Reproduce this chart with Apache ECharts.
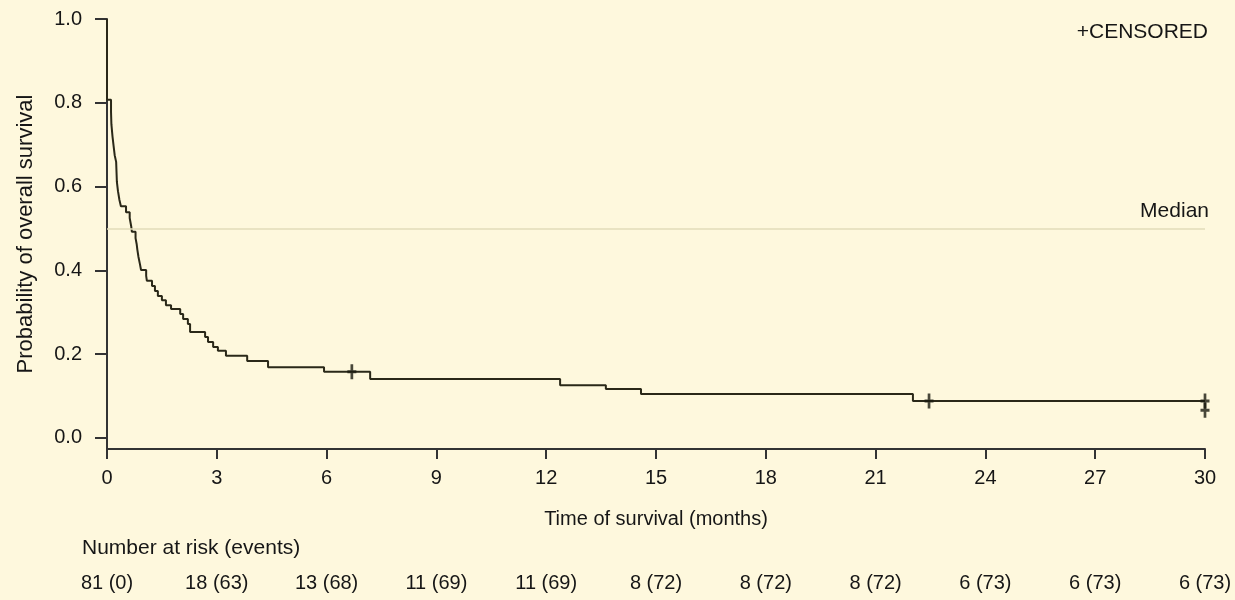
<!DOCTYPE html>
<html>
<head>
<meta charset="utf-8">
<script src="https://cdn.jsdelivr.net/npm/echarts@6/dist/echarts.min.js"></script>
<style>
  html, body { margin: 0; padding: 0; background: #fef8dd; }
  #chart { width: 1235px; height: 600px; }
</style>
</head>
<body>
<div id="chart"></div>
<script>
// Kaplan-Meier steps: time (months) of each drop and level after it
var stepTimes = [0, 0.11, 0.12, 0.15, 0.18, 0.21, 0.25, 0.26, 0.27, 0.30, 0.34, 0.38, 0.52, 0.62, 0.66, 0.68,
  0.78, 0.81, 0.83, 0.86, 0.90, 0.93, 1.07, 1.09, 1.23, 1.31, 1.39, 1.50, 1.61, 1.75, 2.00, 2.08, 2.21, 2.27,
  2.68, 2.76, 2.90, 3.03, 3.25, 3.83, 4.40, 5.93, 7.19, 12.38, 13.63, 14.59, 22.02, 30];
var stepSurv = [0.807, 0.778, 0.749, 0.720, 0.697, 0.675, 0.659, 0.635, 0.611, 0.589, 0.568, 0.553, 0.539, 0.525, 0.506, 0.492,
  0.477, 0.463, 0.449, 0.432, 0.415, 0.401, 0.387, 0.375, 0.363, 0.351, 0.339, 0.329, 0.317, 0.308, 0.296, 0.284, 0.272, 0.253,
  0.241, 0.229, 0.217, 0.208, 0.196, 0.184, 0.169, 0.158, 0.141, 0.126, 0.117, 0.105, 0.088, 0.088];

// censored observations
var censorTimes = [6.69, 22.46, 30, 30];
var censorSurv = [0.158, 0.088, 0.088, 0.066];

// number at risk (events) at each 3-month tick
var riskTimes = [0, 3, 6, 9, 12, 15, 18, 21, 24, 27, 30];
var atRisk = [81, 18, 13, 11, 11, 8, 8, 8, 6, 6, 6];
var events = [0, 63, 68, 69, 69, 72, 72, 72, 73, 73, 73];

var yTicks = [0, 0.2, 0.4, 0.6, 0.8, 1.0];
var medianLevel = 0.5;

var curve = [[0, 1]];
for (var i = 0; i < stepTimes.length; i++) {
  curve.push([stepTimes[i], stepSurv[i]]);
}
var censored = [];
for (var j = 0; j < censorTimes.length; j++) {
  censored.push([censorTimes[j], censorSurv[j]]);
}

var font = '"Liberation Sans", Arial, sans-serif';
var ink = '#161616';

var myChart = echarts.init(document.getElementById('chart'));
var option = {
  backgroundColor: '#fef8dd',
  animation: false,
  textStyle: { fontFamily: font },
  grid: { left: 107, right: 30, top: 19, bottom: 151 },
  xAxis: [
    {
      type: 'value',
      min: 0,
      max: 30,
      interval: 3,
      name: 'Time of survival (months)',
      nameLocation: 'middle',
      nameGap: 60,
      nameTextStyle: { color: ink, fontSize: 20, fontFamily: font },
      axisLine: { onZero: false, lineStyle: { color: '#333', width: 2 } },
      axisTick: { length: 10, lineStyle: { color: '#333', width: 2 } },
      axisLabel: { color: ink, fontSize: 20, margin: 19, fontFamily: font },
      splitLine: { show: false }
    },
    {
      type: 'value',
      position: 'bottom',
      offset: 116,
      min: 0,
      max: 30,
      interval: 3,
      axisLine: { show: false, onZero: false },
      axisTick: { show: false },
      splitLine: { show: false },
      axisLabel: {
        color: ink,
        fontSize: 20,
        margin: 8,
        fontFamily: font,
        formatter: function (v) {
          var k = riskTimes.indexOf(v);
          return k < 0 ? '' : atRisk[k] + ' (' + events[k] + ')';
        }
      }
    }
  ],
  yAxis: {
    type: 'value',
    min: -0.0263,
    max: 1,
    name: 'Probability of overall survival',
    nameLocation: 'middle',
    nameGap: 70,
    nameRotate: 90,
    nameTextStyle: { color: ink, fontSize: 22, fontFamily: font },
    axisLine: { show: true, lineStyle: { color: '#333', width: 2 } },
    axisTick: { show: true, length: 12, customValues: yTicks, lineStyle: { color: '#333', width: 2 } },
    axisLabel: {
      color: ink,
      fontSize: 20,
      margin: 25,
      fontFamily: font,
      customValues: yTicks,
      formatter: function (v) { return v.toFixed(1); }
    },
    splitLine: { show: false }
  },
  graphic: [
    {
      type: 'text',
      right: 27,
      top: 22,
      style: { text: '+CENSORED', fill: ink, font: '21px ' + font }
    },
    {
      type: 'text',
      left: 82,
      top: 538,
      style: { text: 'Number at risk (events)', fill: ink, font: '21px ' + font }
    }
  ],
  series: [
    {
      type: 'line',
      step: 'end',
      data: curve,
      symbol: 'none',
      lineStyle: { color: '#2a2818', width: 2 },
      markLine: {
        silent: true,
        symbol: 'none',
        lineStyle: { color: '#e2dcb8', width: 1.5, type: 'solid' },
        label: {
          position: 'insideEndTop',
          formatter: 'Median',
          color: ink,
          fontSize: 21,
          fontFamily: font,
          distance: [-4, 7]
        },
        data: [{ yAxis: medianLevel }]
      },
      z: 3
    },
    {
      type: 'scatter',
      data: censored,
      symbol: 'path://M3.5,0H6.5V4H10V6H6.5V10H3.5V6H0V4H3.5Z',
      symbolSize: [9, 15],
      itemStyle: { color: '#1a1a10' },
      z: 4
    }
  ]
};
myChart.setOption(option);
</script>
</body>
</html>
